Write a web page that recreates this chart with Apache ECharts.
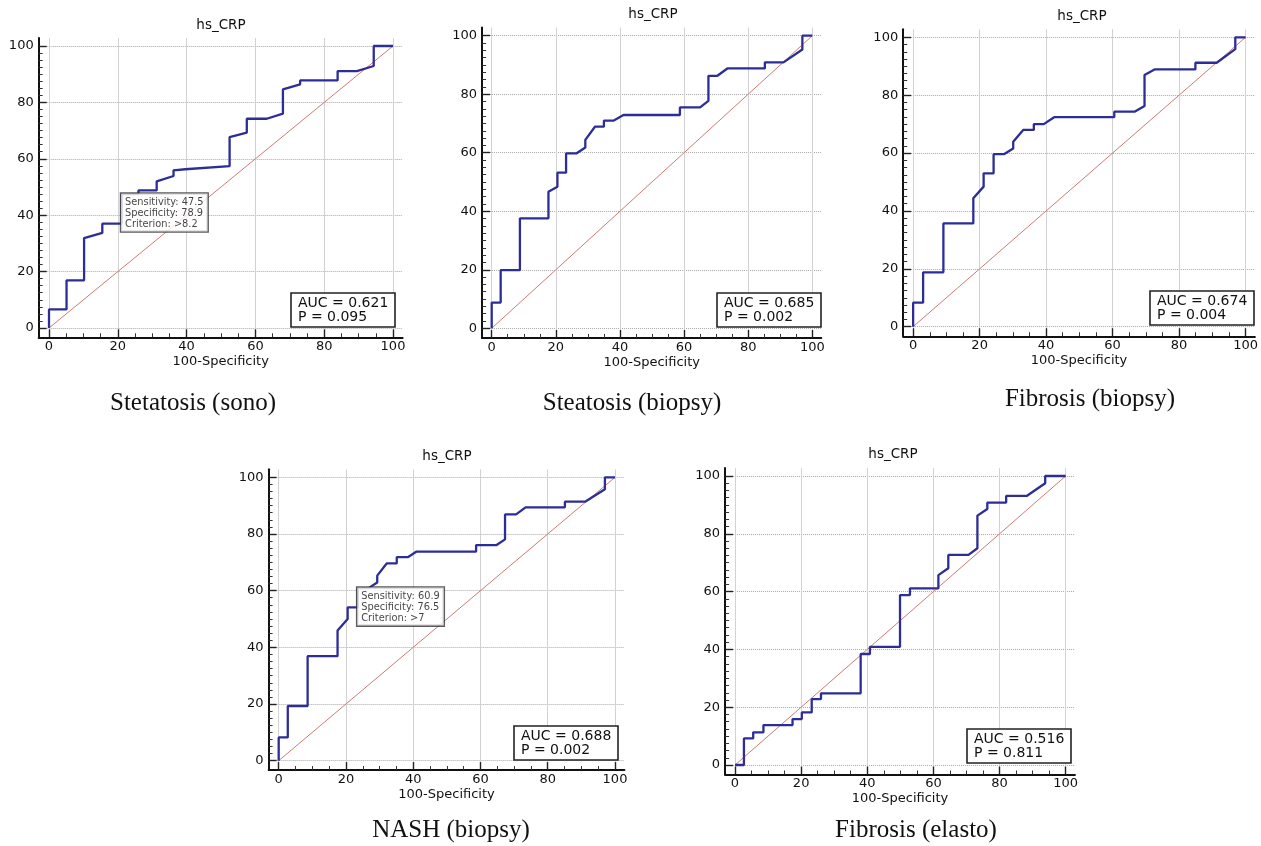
<!DOCTYPE html>
<html>
<head>
<meta charset="utf-8">
<title>hs_CRP ROC</title>
<script src="https://cdn.jsdelivr.net/npm/echarts@6/dist/echarts.min.js"></script>
<style>
    html, body { margin: 0; padding: 0; background: #fff; }
    #main { width: 1261px; height: 846px; }
</style>
</head>
<body>
<div id="main"></div>
<script>
// ROC 曲线: x = 100-Specificity, y = Sensitivity
var sonoX = [0, 0, 5.1, 5.1, 10.2, 10.2, 15.5, 15.5, 21.1, 21.1, 26.0, 26.0, 31.3, 31.3, 36.2, 36.2, 39.6, 52.5, 52.5, 57.5, 57.5, 63.3, 68.0, 68.0, 73.0, 73.0, 83.9, 83.9, 89.5, 94.4, 94.4, 100];
var sonoY = [0, 6.6, 6.6, 16.9, 16.9, 31.9, 33.7, 37.0, 37.0, 47.5, 47.5, 48.8, 48.8, 52.0, 53.9, 55.9, 56.3, 57.4, 67.7, 69.3, 74.2, 74.2, 76.0, 84.6, 86.4, 87.8, 87.8, 91.1, 91.1, 92.9, 100, 100];

var steatX = [0, 0, 2.8, 2.8, 8.8, 8.8, 17.7, 17.7, 20.5, 20.5, 23.2, 23.2, 26.5, 29.2, 29.2, 32.2, 35.0, 35.0, 38.1, 41.1, 58.7, 58.7, 65.0, 67.6, 67.6, 70.4, 73.5, 85.2, 85.2, 91.0, 96.9, 96.9, 100];
var steatY = [0, 8.8, 8.8, 19.9, 19.9, 37.6, 37.6, 46.7, 48.4, 53.2, 53.2, 59.8, 59.8, 61.8, 64.4, 68.9, 68.9, 71.0, 71.0, 72.9, 72.9, 75.5, 75.5, 77.7, 86.3, 86.3, 88.8, 88.8, 90.9, 90.9, 95.3, 100, 100];

var fibroX = [0, 0, 3.0, 3.0, 9.1, 9.1, 18.1, 18.1, 21.2, 21.2, 24.2, 24.2, 27.3, 30.1, 30.1, 33.1, 36.3, 36.3, 39.3, 42.4, 60.5, 60.5, 66.6, 69.6, 69.6, 72.6, 84.9, 84.9, 91.3, 96.9, 96.9, 100];
var fibroY = [0, 8.3, 8.3, 18.8, 18.8, 35.7, 35.7, 44.4, 48.4, 53.0, 53.0, 59.6, 59.6, 61.6, 63.9, 68.0, 68.0, 70.0, 70.0, 72.4, 72.4, 74.3, 74.3, 76.3, 87.0, 88.9, 88.9, 91.2, 91.2, 95.9, 100, 100];

var nashX = [0, 0, 2.7, 2.7, 8.6, 8.6, 17.5, 17.5, 20.5, 20.5, 23.5, 23.5, 26.7, 29.3, 29.3, 32.1, 35.1, 35.1, 38.4, 41.0, 58.7, 58.7, 64.8, 67.3, 67.3, 70.6, 73.4, 85.1, 85.1, 91.1, 97.0, 97.0, 100];
var nashY = [0, 8.2, 8.2, 19.3, 19.3, 36.9, 36.9, 45.9, 50.0, 54.1, 54.1, 60.9, 60.9, 62.9, 65.3, 69.6, 69.6, 71.8, 71.8, 73.8, 73.8, 76.1, 76.1, 78.1, 86.9, 86.9, 89.4, 89.4, 91.4, 91.4, 95.8, 100, 100];

var elastoX = [0, 2.7, 2.7, 5.5, 5.5, 8.6, 8.6, 17.4, 17.4, 20.2, 20.2, 23.2, 23.2, 26.0, 26.0, 38.0, 38.0, 40.8, 40.8, 49.9, 49.9, 52.9, 52.9, 61.5, 61.5, 64.5, 64.5, 70.6, 73.3, 73.3, 76.3, 76.3, 82.0, 82.0, 88.2, 93.8, 93.8, 100];
var elastoY = [0, 0, 9.2, 9.2, 11.3, 11.3, 13.8, 13.8, 15.9, 15.9, 18.2, 18.2, 22.8, 22.8, 24.8, 24.8, 38.4, 38.4, 40.9, 40.9, 58.8, 58.8, 61.1, 61.1, 65.7, 68.1, 72.7, 72.7, 75.0, 86.3, 88.6, 90.8, 90.8, 93.1, 93.1, 97.5, 100, 100];

// 参考线
var diagX = [0, 100];
var diagY = [0, 100];

// 面板文字
var captions = ['Stetatosis (sono)', 'Steatosis (biopsy)', 'Fibrosis (biopsy)', 'NASH (biopsy)', 'Fibrosis (elasto)'];
var aucValues = ['0.621', '0.685', '0.674', '0.688', '0.516'];
var pValues = ['0.095', '0.002', '0.004', '0.002', '0.811'];

// 最佳截断点 (null = 不显示)
var cutSens = [47.5, null, null, 60.9, null];
var cutSpec = [78.9, null, null, 76.5, null];
var cutCrit = ['>8.2', null, null, '>7', null];

// 刻度
var majorTicks = [0, 20, 40, 60, 80, 100];
var xMinorTicks = [5, 10, 15, 25, 30, 35, 45, 50, 55, 65, 70, 75, 85, 90, 95];
var yMinorTicks = [2.5, 5, 7.5, 10, 12.5, 15, 17.5, 22.5, 25, 27.5, 30, 32.5, 35, 37.5,
    42.5, 45, 47.5, 50, 52.5, 55, 57.5, 62.5, 65, 67.5, 70, 72.5, 75, 77.5,
    82.5, 85, 87.5, 90, 92.5, 95, 97.5];

var curvesX = [sonoX, steatX, fibroX, nashX, elastoX];
var curvesY = [sonoY, steatY, fibroY, nashY, elastoY];

// 每个面板的像素位置 (x=0/100, y=0/100 所在位置)
var layout = [
    {x0: 49, x100: 393, y0: 328, y100: 46, tx: 221, ty: 18, cx: 193, cy: 391, al: 291, at: 293},
    {x0: 491.7, x100: 812.3, y0: 328.3, y100: 35.7, tx: 653, ty: 7, cx: 632, cy: 391, al: 717, at: 293},
    {x0: 913.3, x100: 1251, y0: 326.7, y100: 37.3, tx: 1082, ty: 9, cx: 1090, cy: 387, al: 1150, at: 291},
    {x0: 278.7, x100: 615, y0: 760.7, y100: 477.3, tx: 447, ty: 449, cx: 451, cy: 818, al: 514, at: 726},
    {x0: 735, x100: 1065.7, y0: 765, y100: 476, tx: 893, ty: 447, cx: 916, cy: 818, al: 967, at: 729}
];

var X_MIN = -3, X_MAX = 102.8, Y_MIN = -3.3, Y_MAX = 102.8;
var FONT = 'DejaVu Sans';

var grids = [], xAxes = [], yAxes = [], series = [], titles = [];

for (let i = 0; i < layout.length; i++) {
    let L = layout[i];
    let sx = (L.x100 - L.x0) / 100;
    let sy = (L.y0 - L.y100) / 100;
    grids.push({
        left: L.x0 + X_MIN * sx,
        top: L.y100 - (Y_MAX - 100) * sy,
        width: (X_MAX - X_MIN) * sx,
        height: (Y_MAX - Y_MIN) * sy
    });

    // 主 x 轴
    xAxes.push({
        gridIndex: i, type: 'value', min: X_MIN, max: X_MAX, position: 'bottom',
        name: '100-Specificity', nameLocation: 'middle', nameGap: 18,
        nameTextStyle: {fontFamily: FONT, fontSize: 13, color: '#111'},
        axisLine: {onZero: false, lineStyle: {color: '#111', width: 2}},
        axisTick: {inside: true, length: 8, customValues: majorTicks, lineStyle: {color: '#222', width: 1.4}},
        axisLabel: {customValues: majorTicks, margin: 3, fontFamily: FONT, fontSize: 13, color: '#111'},
        splitLine: {show: true, lineStyle: {color: '#d2d2d2', width: 1}}
    });
    // 次刻度
    xAxes.push({
        gridIndex: i, type: 'value', min: X_MIN, max: X_MAX, position: 'bottom',
        axisLine: {show: false, onZero: false},
        axisTick: {inside: true, length: 4, customValues: xMinorTicks, lineStyle: {color: '#333', width: 1}},
        axisLabel: {show: false},
        splitLine: {show: false}
    });

    yAxes.push({
        gridIndex: i, type: 'value', min: Y_MIN, max: Y_MAX, position: 'left',
        axisLine: {onZero: false, lineStyle: {color: '#111', width: 2}},
        axisTick: {inside: true, length: 8, customValues: majorTicks, lineStyle: {color: '#222', width: 1.4}},
        axisLabel: {customValues: majorTicks, margin: 5, fontFamily: FONT, fontSize: 13, color: '#111'},
        splitLine: {show: true, lineStyle: {color: '#a8a8a8', width: 1, type: [1, 1]}}
    });
    yAxes.push({
        gridIndex: i, type: 'value', min: Y_MIN, max: Y_MAX, position: 'left',
        axisLine: {show: false, onZero: false},
        axisTick: {inside: true, length: 4, customValues: yMinorTicks, lineStyle: {color: '#333', width: 1}},
        axisLabel: {show: false},
        splitLine: {show: false}
    });

    // 对角参考线
    series.push({
        type: 'line', xAxisIndex: 2 * i, yAxisIndex: 2 * i,
        data: diagX.map(function (v, k) { return [v, diagY[k]]; }),
        showSymbol: false, silent: true,
        lineStyle: {color: '#cf7a74', width: 1}
    });

    // ROC 曲线
    series.push({
        type: 'line', xAxisIndex: 2 * i, yAxisIndex: 2 * i,
        data: curvesX[i].map(function (v, k) { return [v, curvesY[i][k]]; }),
        showSymbol: false, silent: true,
        lineStyle: {color: '#2d2d98', width: 2.3}
    });

    // 截断点标签
    if (cutSens[i] !== null) {
        series.push({
            type: 'scatter', xAxisIndex: 2 * i, yAxisIndex: 2 * i,
            data: [[100 - cutSpec[i], cutSens[i]]],
            symbolSize: 1, silent: true, z: 5,
            itemStyle: {color: 'rgba(0,0,0,0)'},
            label: {
                show: true, position: [0, 0], align: 'left', verticalAlign: 'top',
                formatter: 'Sensitivity: ' + cutSens[i] + '\nSpecificity: ' + cutSpec[i] + '\nCriterion: ' + cutCrit[i],
                backgroundColor: '#fff', borderColor: '#333', borderWidth: 1.3,
                padding: [3, 4, 2, 4],
                fontFamily: FONT, fontSize: 9.8, lineHeight: 11, color: '#111'
            }
        });
    }

    titles.push({
        text: 'hs_CRP', left: L.tx, top: L.ty, textAlign: 'center', padding: 0,
        textStyle: {fontFamily: FONT, fontSize: 13.5, fontWeight: 'normal', color: '#111'}
    });
    titles.push({
        text: captions[i], left: L.cx, top: L.cy, textAlign: 'center', padding: 0,
        textStyle: {fontFamily: 'Liberation Serif', fontSize: 25, fontWeight: 'normal', color: '#111'}
    });
    titles.push({
        text: 'AUC = ' + aucValues[i] + '\nP = ' + pValues[i],
        left: L.al, top: L.at, padding: [3, 7, 3, 7],
        backgroundColor: '#fff', borderColor: '#222', borderWidth: 1.6,
        textStyle: {fontFamily: FONT, fontSize: 14, lineHeight: 14, fontWeight: 'normal', color: '#111'}
    });
}

let chart = echarts.init(document.getElementById('main'));
chart.setOption({
    animation: false,
    backgroundColor: '#fff',
    title: titles,
    grid: grids,
    xAxis: xAxes,
    yAxis: yAxes,
    series: series
});
</script>
</body>
</html>
